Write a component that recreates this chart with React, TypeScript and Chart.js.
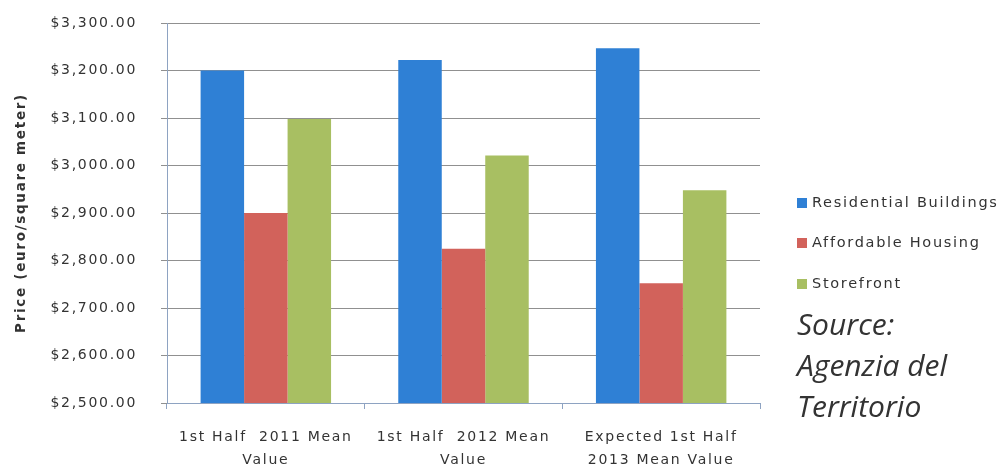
import React, { useEffect, useRef } from "react";
import { Chart, registerables } from "chart.js";

Chart.register(...registerables);

const categories: string[][] = [
  ["1st Half  2011 Mean", "Value"],
  ["1st Half  2012 Mean", "Value"],
  ["Expected 1st Half", "2013 Mean Value"],
];
const seriesNames = ["Residential Buildings", "Affordable Housing", "Storefront"];
const residential = [3200, 3222, 3247];
const affordable = [2900, 2825, 2752];
const storefront = [3098, 3021, 2948];
const seriesColors = ["#2F80D5", "#D2625B", "#A8BF62"];
const yMin = 2500;
const yMax = 3300;
const yStep = 100;
const yTitle = "Price (euro/square meter)";
const sourceLines = ["Source:", "Agenzia del", "Territorio"];

const FONT = "'DejaVu Sans', sans-serif";

const spacingPlugin = {
  id: "spacing",
  beforeUpdate(chart: any) {
    chart.ctx.letterSpacing = "1.7px";
  },
  beforeDraw(chart: any) {
    chart.ctx.letterSpacing = "1.7px";
    const ctx = chart.ctx;
    ctx.save();
    ctx.fillStyle = "#ffffff";
    ctx.fillRect(0, 0, chart.width, chart.height);
    ctx.restore();
  },
};

const legendPlugin = {
  id: "customLegend",
  afterDraw(chart: any) {
    const ctx = chart.ctx;
    const rows = [203, 243, 284];
    ctx.save();
    ctx.letterSpacing = "1.7px";
    ctx.font = `14.5px ${FONT}`;
    ctx.textBaseline = "middle";
    ctx.textAlign = "left";
    chart.data.datasets.forEach((ds: any, i: number) => {
      const y = rows[i];
      ctx.fillStyle = ds.backgroundColor;
      ctx.fillRect(797, y - 5, 10, 10);
      ctx.fillStyle = "#333333";
      ctx.fillText(ds.label, 812, y);
    });
    ctx.restore();
  },
};

function fmt(v: number): string {
  return "$" + v.toLocaleString("en-US", { minimumFractionDigits: 2, maximumFractionDigits: 2 });
}

export default function App() {
  const ref = useRef<HTMLCanvasElement | null>(null);
  useEffect(() => {
    if (!ref.current) return;
    const chart = new Chart(ref.current, {
      type: "bar",
      data: {
        labels: categories,
        datasets: [residential, affordable, storefront].map((d, i) => ({
          label: seriesNames[i],
          data: d,
          backgroundColor: seriesColors[i],
          borderWidth: 0,
          categoryPercentage: 0.66,
          barPercentage: 1,
        })),
      },
      options: {
        responsive: false,
        animation: false,
        devicePixelRatio: 1,
        layout: { padding: { left: 8, right: 244, top: 23, bottom: 0 } },
        plugins: { legend: { display: false }, tooltip: { enabled: false } },
        scales: {
          x: {
            grid: {
              drawOnChartArea: false,
              drawTicks: true,
              tickLength: 6,
              color: "#8EA3C2",
              offset: true,
            },
            border: { color: "#8EA3C2", width: 1 },
            ticks: {
              color: "#333333",
              font: { family: FONT, size: 14, lineHeight: 1.7 },
              padding: 16,
              maxRotation: 0,
              autoSkip: false,
            },
            afterFit(scale: any) {
              scale.height = 66;
            },
          },
          y: {
            min: yMin,
            max: yMax,
            grid: {
              color: "#909090",
              lineWidth: 1,
              tickLength: 6,
              drawTicks: true,
            },
            border: { color: "#8EA3C2", width: 1 },
            ticks: {
              stepSize: yStep,
              color: "#333333",
              font: { family: FONT, size: 14 },
              padding: 24,
              callback: (v: any) => fmt(Number(v)),
            },
            title: {
              display: true,
              text: yTitle,
              color: "#333333",
              font: { family: FONT, size: 13.5, weight: "bold" },
              padding: { top: 5, bottom: 0 },
            },
            afterFit(scale: any) {
              scale.width = 159;
              scale.paddingTop = 0;
              scale.paddingBottom = 0;
            },
          },
        },
      },
      plugins: [spacingPlugin, legendPlugin],
    } as any);
    return () => chart.destroy();
  }, []);

  return (
    <div style={{ position: "fixed", left: 0, top: 0, width: 1004, height: 469, background: "#fff" }}>
      <canvas ref={ref} width={1004} height={469} style={{ display: "block" }} />
      <div
        style={{
          position: "absolute",
          left: 797,
          top: 303,
          fontFamily: "'Open Sans', sans-serif",
          fontStyle: "italic",
          fontSize: 30,
          lineHeight: "41px",
          color: "#333333",
        }}
      >
        {sourceLines.map((s, i) => (
          <div key={i}>{s}</div>
        ))}
      </div>
    </div>
  );
}
